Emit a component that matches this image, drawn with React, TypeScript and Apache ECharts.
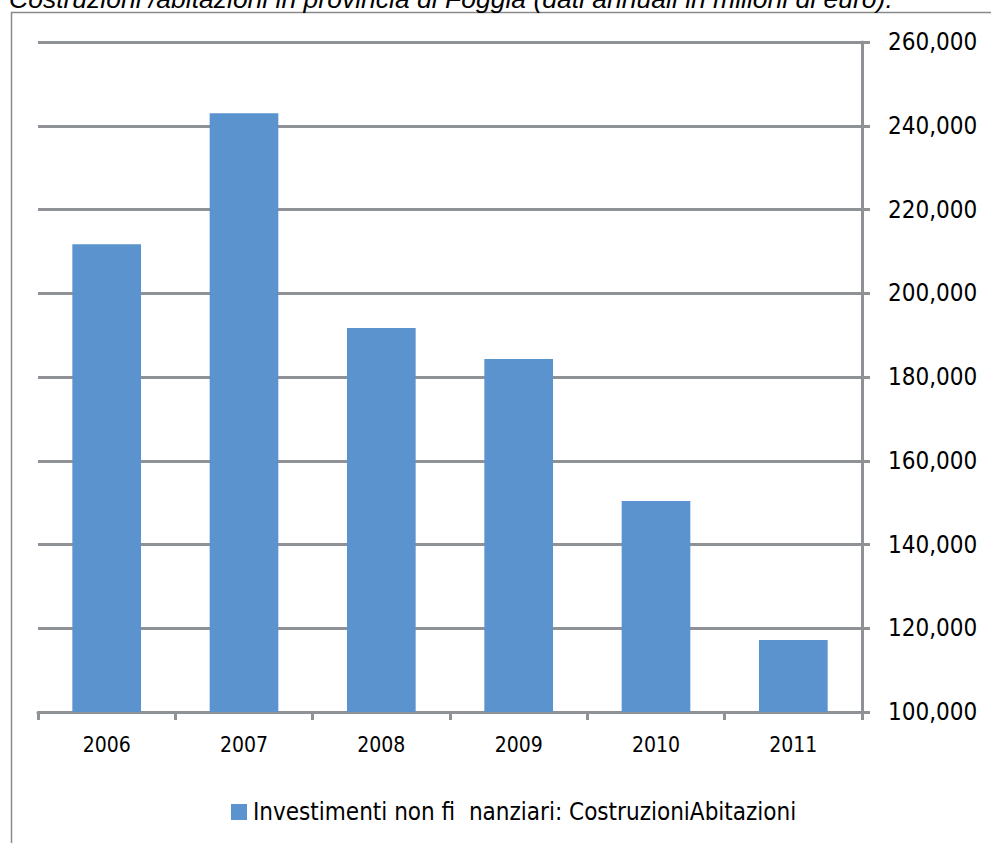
import React, { useEffect, useRef } from "react";
import * as echarts from "echarts";

const categories = ["2006", "2007", "2008", "2009", "2010", "2011"];
const values = [211700, 243000, 191700, 184300, 150400, 117200];
const seriesName = "Investimenti non fi  nanziari: CostruzioniAbitazioni";
const titleText = "Costruzioni /abitazioni in provincia di Foggia (dati annuali in milioni di euro).";
const yMin = 100000;
const yMax = 260000;
const yStep = 20000;

const NARROW = "DejaVu Sans Condensed";

export default function App() {
  const ref = useRef<HTMLDivElement>(null);
  useEffect(() => {
    if (!ref.current) return;
    const chart = echarts.init(ref.current, undefined, { renderer: "svg" });
    chart.setOption({
      animation: false,
      backgroundColor: "#ffffff",
      graphic: [
        {
          type: "rect",
          shape: { x: 11.5, y: 12.5, width: 1000, height: 900 },
          style: { fill: "none", stroke: "#8a8a8a", lineWidth: 1.5 },
          z: 0,
        },
        {
          type: "text",
          x: 9,
          y: 12,
          style: {
            text: titleText,
            font: "italic 26.5px 'Liberation Sans', Arial, sans-serif",
            fill: "#000",
            verticalAlign: "bottom",
          },
        },
      ],
      grid: { left: 38, right: 129, top: 42, bottom: 131, containLabel: false },
      legend: {
        bottom: 14,
        left: 226,
        itemWidth: 16,
        itemHeight: 16,
        icon: "rect",
        itemGap: 10,
        textStyle: { fontFamily: NARROW, fontSize: 24, color: "#000", padding: [0, 0, 0, 1] },
        data: [seriesName],
      },
      xAxis: {
        type: "category",
        data: categories,
        axisLine: { lineStyle: { color: "#8e9195", width: 3 } },
        axisTick: { show: true, length: 8, lineStyle: { color: "#8e9195", width: 3 } },
        axisLabel: { fontFamily: NARROW, fontSize: 21, color: "#000", margin: 22 },
      },
      yAxis: {
        type: "value",
        position: "right",
        min: yMin,
        max: yMax,
        interval: yStep,
        axisLine: { show: true, lineStyle: { color: "#8e9195", width: 3 } },
        axisTick: { show: true, length: 8, lineStyle: { color: "#8e9195", width: 3 } },
        splitLine: { lineStyle: { color: "#8e9195", width: 3 } },
        axisLabel: {
          fontFamily: NARROW,
          fontSize: 24,
          color: "#000",
          margin: 26,
          formatter: (v: number) => v.toLocaleString("en-US"),
        },
      },
      series: [
        {
          name: seriesName,
          type: "bar",
          data: values,
          barCategoryGap: "50%",
          itemStyle: { color: "#5a93ce" },
        },
      ],
    });
    return () => chart.dispose();
  }, []);
  return <div ref={ref} style={{ position: "fixed", left: 0, top: 0, width: 991, height: 843 }} />;
}
